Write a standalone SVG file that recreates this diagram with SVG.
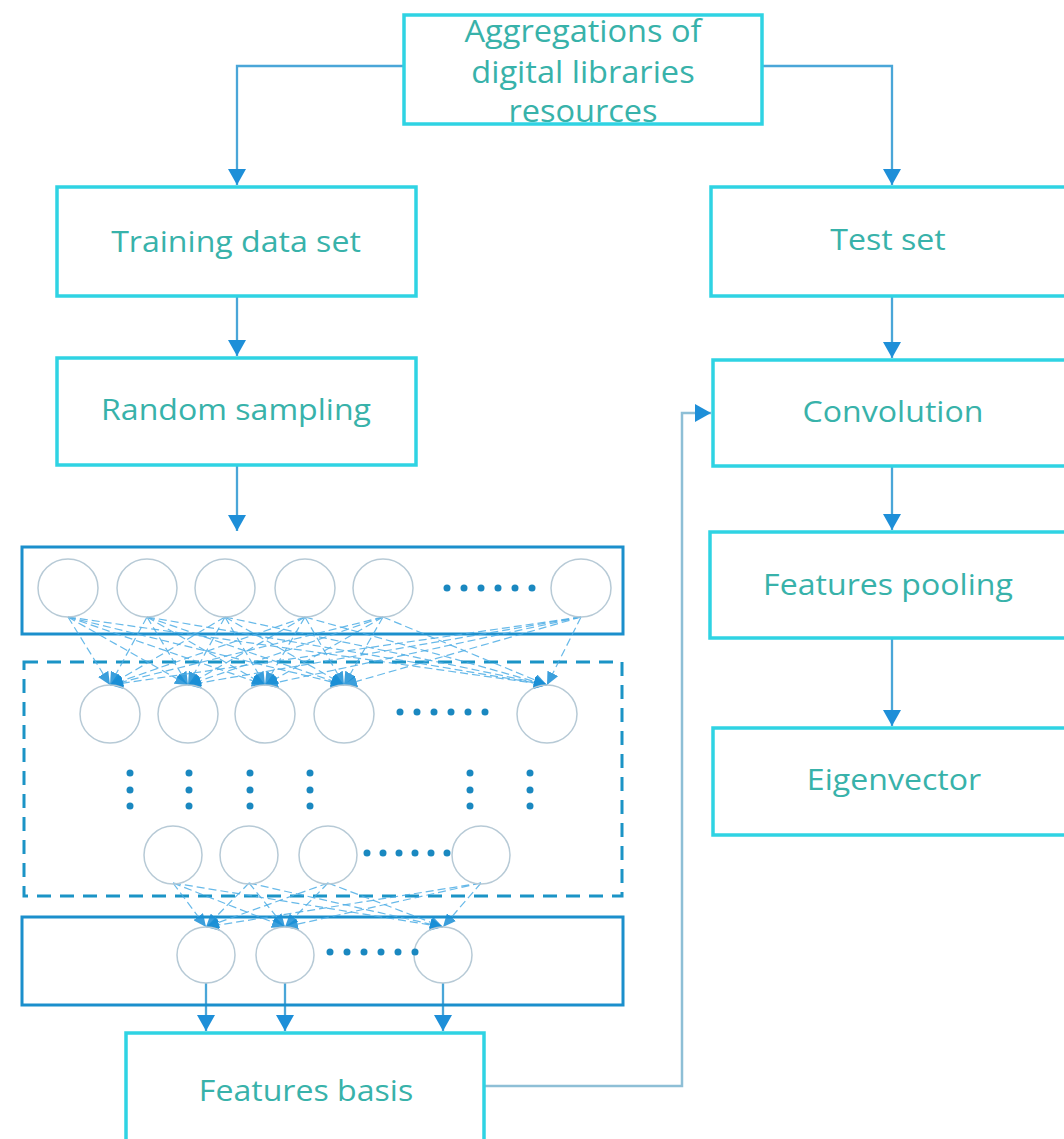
<svg xmlns="http://www.w3.org/2000/svg" width="1064" height="1139" viewBox="0 0 1064 1139">
<style>
.box{fill:#fff;stroke:#2fd3e3;stroke-width:3.5}
.lbl{font-family:"Open Sans","Noto Sans","Liberation Sans",sans-serif;fill:#38b2aa;text-anchor:middle}
.conn{fill:none;stroke:#4aa6d8;stroke-width:2.3}
.fb{fill:none;stroke:#8ebfd6;stroke-width:2.5}
.nnbox{fill:none;stroke:#1b8fcc;stroke-width:3}
.dash{fill:none;stroke:#1b94c6;stroke-width:3;stroke-dasharray:14 9}
.node{fill:none;stroke:#b7cad6;stroke-width:1.5}
.dot{fill:#1a88c0}
.nnl{fill:none;stroke:#4eaee6;stroke-width:1.2;stroke-dasharray:8 4;opacity:0.85}
</style>
<defs>
<marker id="arr" markerUnits="userSpaceOnUse" markerWidth="18" markerHeight="18" refX="16" refY="9" orient="auto">
<path d="M0,0 L16,9 L0,18 z" fill="#1e8fd8"/>
</marker>
<marker id="sarr" markerUnits="userSpaceOnUse" markerWidth="14" markerHeight="12" refX="13" refY="6" orient="auto">
<path d="M0,0 L13,6 L0,12 z" fill="#1a8fd6"/>
</marker>
</defs>
<rect width="1064" height="1139" fill="#fff"/>

<g id="connectors">
<path class="conn" d="M404,66 H237 V185" marker-end="url(#arr)"/>
<path class="conn" d="M762,66 H892 V185" marker-end="url(#arr)"/>
<path class="conn" d="M237,296 V356" marker-end="url(#arr)"/>
<path class="conn" d="M237,465 V531" marker-end="url(#arr)"/>
<path class="conn" d="M892,296 V358" marker-end="url(#arr)"/>
<path class="conn" d="M892,466 V530" marker-end="url(#arr)"/>
<path class="conn" d="M892,638 V726" marker-end="url(#arr)"/>
<path class="fb" d="M484,1086 H682 V413 H711" marker-end="url(#arr)"/>
<path class="conn" d="M206,983 V1031" marker-end="url(#arr)"/>
<path class="conn" d="M285,983 V1031" marker-end="url(#arr)"/>
<path class="conn" d="M443,983 V1031" marker-end="url(#arr)"/>
</g>

<g id="top">
<rect class="box" x="404" y="15" width="358" height="109"/>
<text class="lbl" font-size="31" transform="translate(583,42) scale(1.05,1)">Aggregations of</text>
<text class="lbl" font-size="31" transform="translate(583,83) scale(1.05,1)">digital libraries</text>
<text class="lbl" font-size="31" transform="translate(583,122) scale(1.05,1)">resources</text>
</g>

<g id="training">
<rect class="box" x="57" y="187" width="359" height="109"/>
<text class="lbl" font-size="30" transform="translate(236,252) scale(1.07,1)">Training data set</text>
</g>
<g id="random">
<rect class="box" x="57" y="358" width="359" height="107"/>
<text class="lbl" font-size="30" transform="translate(236,420) scale(1.07,1)">Random sampling</text>
</g>
<g id="test">
<rect class="box" x="711" y="187" width="360" height="109"/>
<text class="lbl" font-size="30" transform="translate(888,250) scale(1.07,1)">Test set</text>
</g>
<g id="convolution">
<rect class="box" x="713" y="360" width="358" height="106"/>
<text class="lbl" font-size="30" transform="translate(893,422) scale(1.07,1)">Convolution</text>
</g>
<g id="pooling">
<rect class="box" x="710" y="532" width="361" height="106"/>
<text class="lbl" font-size="30" transform="translate(888,595) scale(1.07,1)">Features pooling</text>
</g>
<g id="eigen">
<rect class="box" x="713" y="728" width="358" height="107"/>
<text class="lbl" font-size="30" transform="translate(894,790) scale(1.07,1)">Eigenvector</text>
</g>
<g id="basis">
<rect class="box" x="126" y="1033" width="358" height="115"/>
<text class="lbl" font-size="30" transform="translate(306,1101) scale(1.07,1)">Features basis</text>
</g>

<g id="network">
<rect class="nnbox" x="22" y="547" width="601" height="87"/>
<rect class="dash" x="24" y="662" width="598" height="234"/>
<rect class="nnbox" x="22" y="917" width="601" height="88"/>

<g id="links">
<path class="nnl" d="M68,617 L110,685" marker-end="url(#sarr)"/>
<path class="nnl" d="M68,617 L188,685" marker-end="url(#sarr)"/>
<path class="nnl" d="M68,617 L265,685" marker-end="url(#sarr)"/>
<path class="nnl" d="M68,617 L344,685" marker-end="url(#sarr)"/>
<path class="nnl" d="M68,617 L547,685" marker-end="url(#sarr)"/>
<path class="nnl" d="M147,617 L110,685" marker-end="url(#sarr)"/>
<path class="nnl" d="M147,617 L188,685" marker-end="url(#sarr)"/>
<path class="nnl" d="M147,617 L265,685" marker-end="url(#sarr)"/>
<path class="nnl" d="M147,617 L344,685" marker-end="url(#sarr)"/>
<path class="nnl" d="M147,617 L547,685" marker-end="url(#sarr)"/>
<path class="nnl" d="M225,617 L110,685" marker-end="url(#sarr)"/>
<path class="nnl" d="M225,617 L188,685" marker-end="url(#sarr)"/>
<path class="nnl" d="M225,617 L265,685" marker-end="url(#sarr)"/>
<path class="nnl" d="M225,617 L344,685" marker-end="url(#sarr)"/>
<path class="nnl" d="M225,617 L547,685" marker-end="url(#sarr)"/>
<path class="nnl" d="M305,617 L110,685" marker-end="url(#sarr)"/>
<path class="nnl" d="M305,617 L188,685" marker-end="url(#sarr)"/>
<path class="nnl" d="M305,617 L265,685" marker-end="url(#sarr)"/>
<path class="nnl" d="M305,617 L344,685" marker-end="url(#sarr)"/>
<path class="nnl" d="M305,617 L547,685" marker-end="url(#sarr)"/>
<path class="nnl" d="M383,617 L110,685" marker-end="url(#sarr)"/>
<path class="nnl" d="M383,617 L188,685" marker-end="url(#sarr)"/>
<path class="nnl" d="M383,617 L265,685" marker-end="url(#sarr)"/>
<path class="nnl" d="M383,617 L344,685" marker-end="url(#sarr)"/>
<path class="nnl" d="M383,617 L547,685" marker-end="url(#sarr)"/>
<path class="nnl" d="M581,617 L110,685" marker-end="url(#sarr)"/>
<path class="nnl" d="M581,617 L188,685" marker-end="url(#sarr)"/>
<path class="nnl" d="M581,617 L265,685" marker-end="url(#sarr)"/>
<path class="nnl" d="M581,617 L344,685" marker-end="url(#sarr)"/>
<path class="nnl" d="M581,617 L547,685" marker-end="url(#sarr)"/>
<path class="nnl" d="M173,883 L206,927" marker-end="url(#sarr)"/>
<path class="nnl" d="M173,883 L285,927" marker-end="url(#sarr)"/>
<path class="nnl" d="M173,883 L443,927" marker-end="url(#sarr)"/>
<path class="nnl" d="M249,883 L206,927" marker-end="url(#sarr)"/>
<path class="nnl" d="M249,883 L285,927" marker-end="url(#sarr)"/>
<path class="nnl" d="M249,883 L443,927" marker-end="url(#sarr)"/>
<path class="nnl" d="M328,883 L206,927" marker-end="url(#sarr)"/>
<path class="nnl" d="M328,883 L285,927" marker-end="url(#sarr)"/>
<path class="nnl" d="M328,883 L443,927" marker-end="url(#sarr)"/>
<path class="nnl" d="M481,883 L206,927" marker-end="url(#sarr)"/>
<path class="nnl" d="M481,883 L285,927" marker-end="url(#sarr)"/>
<path class="nnl" d="M481,883 L443,927" marker-end="url(#sarr)"/>
</g>

<g id="layer1">
<ellipse class="node" cx="68" cy="588" rx="30" ry="29"/>
<ellipse class="node" cx="147" cy="588" rx="30" ry="29"/>
<ellipse class="node" cx="225" cy="588" rx="30" ry="29"/>
<ellipse class="node" cx="305" cy="588" rx="30" ry="29"/>
<ellipse class="node" cx="383" cy="588" rx="30" ry="29"/>
<ellipse class="node" cx="581" cy="588" rx="30" ry="29"/>
<g class="dot"><circle cx="447" cy="588" r="3.5"/><circle cx="464" cy="588" r="3.5"/><circle cx="481" cy="588" r="3.5"/><circle cx="498" cy="588" r="3.5"/><circle cx="515" cy="588" r="3.5"/><circle cx="532" cy="588" r="3.5"/></g>
</g>
<g id="layer2">
<ellipse class="node" cx="110" cy="714" rx="30" ry="29"/>
<ellipse class="node" cx="188" cy="714" rx="30" ry="29"/>
<ellipse class="node" cx="265" cy="714" rx="30" ry="29"/>
<ellipse class="node" cx="344" cy="714" rx="30" ry="29"/>
<ellipse class="node" cx="547" cy="714" rx="30" ry="29"/>
<g class="dot"><circle cx="400" cy="712" r="3.5"/><circle cx="417" cy="712" r="3.5"/><circle cx="434" cy="712" r="3.5"/><circle cx="451" cy="712" r="3.5"/><circle cx="468" cy="712" r="3.5"/><circle cx="485" cy="712" r="3.5"/></g>
</g>
<g id="vdots" class="dot">
<circle cx="130" cy="773" r="3.5"/><circle cx="130" cy="790" r="3.5"/><circle cx="130" cy="806" r="3.5"/>
<circle cx="189" cy="773" r="3.5"/><circle cx="189" cy="790" r="3.5"/><circle cx="189" cy="806" r="3.5"/>
<circle cx="250" cy="773" r="3.5"/><circle cx="250" cy="790" r="3.5"/><circle cx="250" cy="806" r="3.5"/>
<circle cx="310" cy="773" r="3.5"/><circle cx="310" cy="790" r="3.5"/><circle cx="310" cy="806" r="3.5"/>
<circle cx="470" cy="773" r="3.5"/><circle cx="470" cy="790" r="3.5"/><circle cx="470" cy="806" r="3.5"/>
<circle cx="530" cy="773" r="3.5"/><circle cx="530" cy="790" r="3.5"/><circle cx="530" cy="806" r="3.5"/>
</g>
<g id="layer3">
<ellipse class="node" cx="173" cy="855" rx="29" ry="29"/>
<ellipse class="node" cx="249" cy="855" rx="29" ry="29"/>
<ellipse class="node" cx="328" cy="855" rx="29" ry="29"/>
<ellipse class="node" cx="481" cy="855" rx="29" ry="29"/>
<g class="dot"><circle cx="367" cy="853" r="3.5"/><circle cx="383" cy="853" r="3.5"/><circle cx="399" cy="853" r="3.5"/><circle cx="415" cy="853" r="3.5"/><circle cx="431" cy="853" r="3.5"/><circle cx="447" cy="853" r="3.5"/></g>
</g>
<g id="layer4">
<ellipse class="node" cx="206" cy="955" rx="29" ry="28"/>
<ellipse class="node" cx="285" cy="955" rx="29" ry="28"/>
<ellipse class="node" cx="443" cy="955" rx="29" ry="28"/>
<g class="dot"><circle cx="330" cy="952" r="3.5"/><circle cx="347" cy="952" r="3.5"/><circle cx="364" cy="952" r="3.5"/><circle cx="381" cy="952" r="3.5"/><circle cx="398" cy="952" r="3.5"/><circle cx="415" cy="952" r="3.5"/></g>
</g>
</g>
</svg>
